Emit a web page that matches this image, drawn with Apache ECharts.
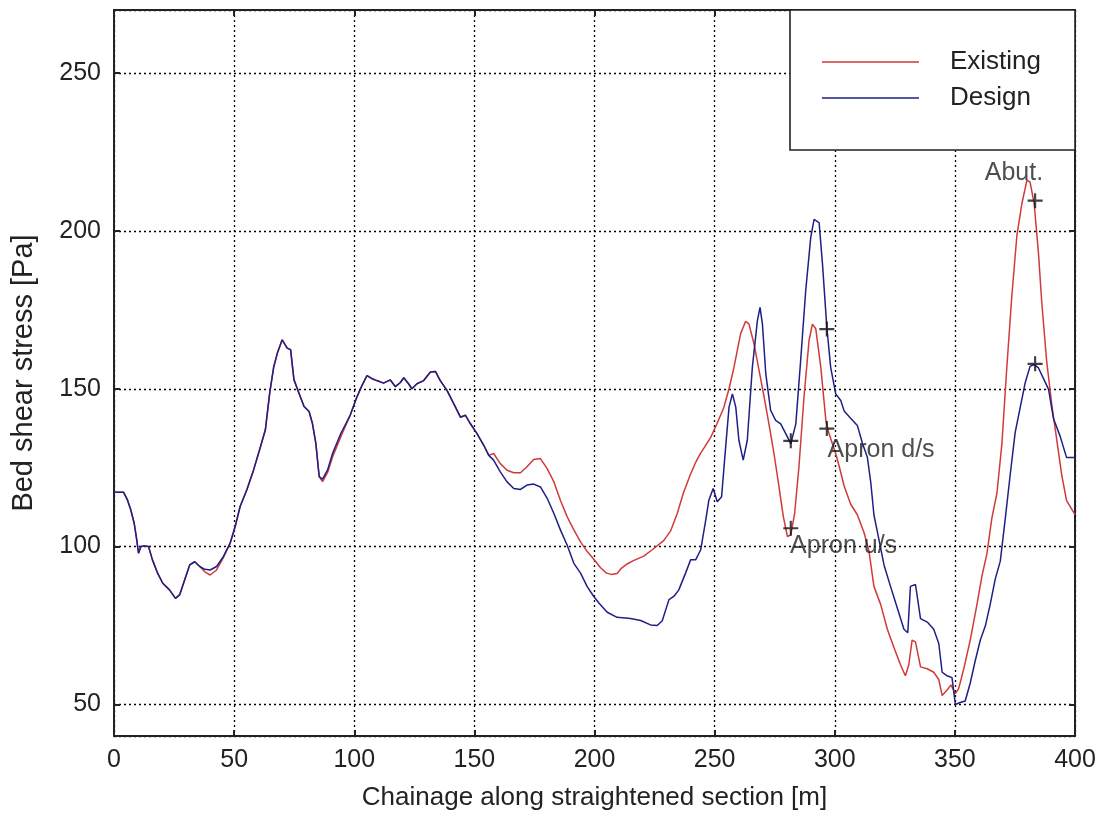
<!DOCTYPE html>
<html>
<head>
<meta charset="utf-8">
<script src="https://cdn.jsdelivr.net/npm/echarts@6/dist/echarts.min.js"></script>
<style>
html,body{margin:0;padding:0;background:#fff;}
#chart{width:1100px;height:827px;}
</style>
</head>
<body>
<div id="chart"></div>
<script>
// ---- data (chainage [m], bed shear stress [Pa]) ----
const chainageExisting = [0,4,5.6,7,8.4,9.5,10.2,11.2,12.6,14.4,16,18.2,20.3,23.1,25.6,27.3,29.4,31.5,33.6,35.7,37.8,40,42.7,45.5,48.3,50.4,52.5,55.3,58.1,61,63,64.8,66.5,68,70,72.1,73.5,74.9,77,79.1,81.2,82.6,84,85.4,86.8,88.9,91,94.5,98.3,101.1,103.2,105.3,107.4,109.4,112.2,115,117.1,119.2,120.6,122.6,124,126.1,128.9,131.7,133.8,135.8,138.6,141.4,144.2,146.3,148.3,151.1,153.9,156,158,160.8,163.6,166.4,169.2,171.9,174.7,177.5,180.3,183.1,185.8,188.6,191.4,194.2,196.9,199.7,202.5,205,207,209.4,211,213.6,216,220.5,224,228.8,231.7,234.4,237,240,242,244,246.2,248.3,251,253.8,256,258,260.8,262.9,264.3,266.4,268.5,270.6,272.6,274.7,276.8,278.6,280.3,281.7,283.3,285.1,287.2,289.3,290.7,292.1,294.2,296.3,297.6,300.4,302,303.9,306.6,309.4,312.2,314.2,316.3,319.1,321.9,324.6,327.4,329.4,330.8,332.2,333.6,335.7,338.5,341.2,343.3,344.7,346.7,348.4,350.2,351.6,353.7,356.4,359.2,361.3,363.3,365.4,367.5,369.6,371.6,373.7,375.8,377.9,380,381.3,383,384.8,386.2,388.2,390.3,392.4,394.5,396.5,400];
const stressExisting = [117.2,117.2,114.8,111.6,107.4,102,97.9,100,100.2,100,95.8,91.5,88.4,86.3,83.6,84.7,89.4,94.2,95.2,93.7,92,91,92.6,96.5,101,106.3,112.7,118,124.3,131.7,137,148.6,157,161.3,165.5,162.9,162.4,152.9,148.6,144.4,142.8,139,132.8,122.2,120.6,123.5,128.5,135,141.6,147.4,151,154.2,153.2,152.6,151.8,152.8,150.7,152,153.5,151.6,150,151.6,152.6,155.3,155.5,152.6,149.5,145.3,141,141.6,139,135.8,132.1,128.9,129.5,126.3,124.2,123.4,123.4,125.3,127.6,127.9,124.7,120.5,114.7,109.5,105.3,101.5,98.5,96,93.3,91.6,91.2,91.5,93,94.5,95.5,97,99,101.9,105,110.4,117,123,126.5,129.4,132,134.5,139,144,150,156.6,167.4,171.4,170.5,164.2,155.8,147.4,138.9,129.5,118.9,109.5,103.2,103.7,110.5,125.3,147.4,165.3,170.5,169,156.8,140,135.8,129.5,125,119.2,113.5,110.1,104.4,98.8,87.4,81.7,73.8,68.1,62.5,59.1,62.5,70.4,69.8,61.9,61.3,60.2,57.9,52.8,54.5,56.2,53.4,55.1,61.3,70.4,81.7,90.8,97.6,109,116.9,132.8,156.6,179.3,198.5,208.7,216.1,215.5,208.7,192.9,177,158.8,145.2,133.9,122.6,114.6,110.1];

const chainageDesign = [0,4,5.6,7,8.4,9.5,10.2,11.2,12.6,14.4,16,18.2,20.3,23.1,25.6,27.3,29.4,31.5,33.6,35.7,37.8,40,42.7,45.5,48.3,50.4,52.5,55.3,58.1,61,63,64.8,66.5,68,70,72.1,73.5,74.9,77,79.1,81.2,82.6,84,85.4,86.8,88.9,91,94.5,98.3,101.1,103.2,105.3,107.4,109.4,112.2,115,117.1,119.2,120.6,122.6,124,126.1,128.9,131.7,133.8,135.8,138.6,141.4,144.2,146.3,148.3,151.1,153.9,156,158,160.8,163.6,166.4,169.2,171.9,174.7,177.5,180.3,183.1,185.8,188.6,191.4,194.2,196.9,199.7,202,205.3,209.4,215,219.2,223.3,226.1,228.2,231,233,235.1,237.9,240,242.1,244.2,246.3,247.6,249.4,251.1,252.9,254.6,256,257.4,258.8,260.1,261.9,263.6,265.7,267.8,268.9,269.9,271.3,273.3,275.4,277.5,279.6,281.7,283.8,285.8,287.9,290,291.4,293.5,294.9,296.7,298.3,300.4,302.5,303.9,306.6,309.4,311.5,313.6,315,316.3,318.4,320.5,323.2,326,328.8,330.4,331.5,333.6,335.7,338.5,341.2,343.3,344.7,346.7,348.8,350.2,352.2,354.3,356.4,358.4,360.6,362.7,364.7,366.8,368.9,371,373,375.1,377.2,379.3,381.3,383,384.8,386.9,389,391,393.8,396.5,400];
const stressDesign = [117.2,117.2,114.8,111.6,107.4,102,97.9,100,100.2,100,95.8,91.5,88.4,86.3,83.6,84.7,89.4,94.2,95.2,93.7,92.8,92.6,93.7,96.8,101,106.3,112.7,118,124.3,131.7,137,148.6,157,161.3,165.5,162.9,162.4,152.9,148.6,144.4,142.8,139,132.8,122.2,121.4,124.3,129.6,136,141.6,147.4,151,154.2,153.2,152.6,151.8,152.8,150.7,152,153.5,151.6,150,151.6,152.6,155.3,155.5,152.6,149.5,145.3,141,141.6,139,135.8,132.1,128.9,127.4,123.7,120.5,118.4,118.1,119.5,119.8,118.9,115.3,110.5,105.3,100.5,94.7,91.6,87.4,84.2,82,79.2,77.6,77.2,76.6,75.2,75,76.5,83.2,84.2,86.3,91.6,95.8,95.8,99,108.4,114.7,118.4,114.2,115.8,131.6,144.2,148.4,144.2,133.7,127.4,133.7,156.8,171.6,175.8,170.5,154.7,143.2,140,138.9,135.8,132.6,138.9,158.9,181,197.9,203.7,202.6,189.5,169.5,156.8,148.4,146.3,143,140.7,138.4,132.8,128.2,120.3,110.1,102.2,94.2,87.4,80.6,73.8,72.7,87.4,88,77.2,76.1,73.8,69.3,60.2,59.1,58.5,50,50.6,51.1,56.8,63.6,70.4,74.9,81.7,89.7,95.4,109,122.6,136.2,144.1,152,157.1,157.7,156.6,153.2,149.8,140.7,135,128.2,128.2];

// "+" markers at apron / abutment locations
const markerChainage = [281.7, 281.7, 296.7, 296.7, 383.4, 383.4];
const markerStress   = [105.8, 133.5, 137.4, 168.9, 209.6, 157.9];

// annotation texts and their anchor points (data units)
const noteTexts    = ['Apron u/s', 'Apron d/s', 'Abut.'];
const noteChainage = [281.4, 297, 374.6];
const noteStress   = [100, 130.5, 218.4];
const noteAlign    = ['left', 'left', 'center'];

const xTicks = [0, 400, 50];   // min, max, step
const yRange = [40, 270];
const seriesNames = ['Existing', 'Design'];

// ---- chart ----
const FONT = '"Liberation Sans", Arial, Helvetica, sans-serif';
const pairs = (xs, ys) => xs.map((x, i) => [x, ys[i]]);
const PLUS = 'path://M6,0H8V6H14V8H8V14H6V8H0V6H6Z';
// legend swatch: a thin horizontal line centred in a 97x26 box
const LINE_ICON = 'path://M0,0H0.05V0.05H0Z M0,12.25H97V13.75H0Z M96.95,25.95H97V26H96.95Z';

const chart = echarts.init(document.getElementById('chart'), null, {renderer: 'canvas'});

const gridLine = {show: true, lineStyle: {color: '#000', width: 1.3, type: [2, 3]}};
const frame = {show: true, onZero: false, lineStyle: {color: '#222', width: 2}};
const tick = {show: true, inside: true, length: 6, lineStyle: {color: '#222', width: 2}};

const option = {
  backgroundColor: '#fff',
  animation: false,
  textStyle: {fontFamily: FONT},
  grid: {left: 114, right: 25, top: 10, bottom: 91, containLabel: false},
  legend: {
    data: seriesNames.map(n => ({name: n, icon: LINE_ICON})),
    icon: LINE_ICON,
    orient: 'vertical',
    left: 790, top: 10,
    padding: [39, 34, 39, 32],
    itemWidth: 97, itemHeight: 26, itemGap: 10,
    backgroundColor: '#fff',
    borderColor: '#222', borderWidth: 1.6,
    textStyle: {fontFamily: FONT, fontSize: 26, color: '#222', padding: [0, 0, 0, 26]}
  },
  xAxis: [
    {
      type: 'value', min: xTicks[0], max: xTicks[1], interval: xTicks[2],
      position: 'bottom',
      axisLine: frame, axisTick: tick, splitLine: gridLine,
      axisLabel: {fontFamily: FONT, fontSize: 25, color: '#222', margin: 12},
      name: 'Chainage along straightened section [m]',
      nameLocation: 'middle', nameGap: 49,
      nameTextStyle: {fontFamily: FONT, fontSize: 26, color: '#222'}
    },
    {
      type: 'value', min: xTicks[0], max: xTicks[1], interval: xTicks[2],
      position: 'top',
      axisLine: frame, axisTick: tick, splitLine: {show: false},
      axisLabel: {show: false}
    }
  ],
  yAxis: [
    {
      type: 'value', min: yRange[0], max: yRange[1],
      splitNumber: 5, minInterval: 50, maxInterval: 50,
      position: 'left',
      axisLine: frame, axisTick: tick, splitLine: gridLine,
      axisLabel: {fontFamily: FONT, fontSize: 25, color: '#222', margin: 13,
                  showMinLabel: false, showMaxLabel: false},
      name: 'Bed shear stress [Pa]',
      nameLocation: 'middle', nameGap: 76,
      nameTextStyle: {fontFamily: FONT, fontSize: 29, color: '#222'}
    },
    {
      type: 'value', min: yRange[0], max: yRange[1],
      splitNumber: 5, minInterval: 50, maxInterval: 50,
      position: 'right',
      axisLine: frame, axisTick: tick, splitLine: {show: false},
      axisLabel: {show: false}
    }
  ],
  series: [
    {
      name: seriesNames[0], type: 'line', data: pairs(chainageExisting, stressExisting),
      symbol: 'none', showSymbol: false,
      lineStyle: {color: '#d03a3a', width: 1.5}, itemStyle: {color: '#d03a3a'},
      z: 2
    },
    {
      name: seriesNames[1], type: 'line', data: pairs(chainageDesign, stressDesign),
      symbol: 'none', showSymbol: false,
      lineStyle: {color: '#1f1f85', width: 1.5}, itemStyle: {color: '#1f1f85'},
      z: 3
    },
    {
      name: 'markers', type: 'scatter', data: pairs(markerChainage, markerStress),
      symbol: PLUS, symbolSize: 15,
      itemStyle: {color: '#111'}, z: 4, silent: true
    },
    {
      name: 'notes', type: 'scatter',
      data: noteTexts.map((t, i) => ({
        value: [noteChainage[i], noteStress[i]],
        label: {
          show: true, formatter: t,
          position: noteAlign[i] === 'left' ? 'right' : 'inside',
          distance: 0,
          fontFamily: FONT, fontSize: 25, color: '#222'
        }
      })),
      symbolSize: 0.1, itemStyle: {color: 'rgba(0,0,0,0)'}, z: 5, silent: true
    }
  ]
};
chart.setOption(option);
</script>
</body>
</html>
